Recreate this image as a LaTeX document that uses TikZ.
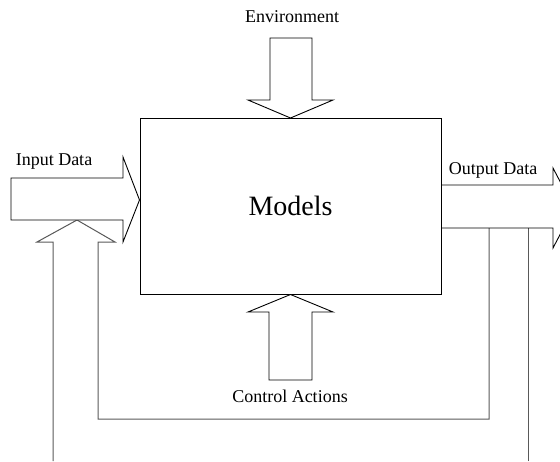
\documentclass[tikz,border=0pt]{standalone}
\usepackage{fontspec}
\setmainfont{Liberation Serif}
\usetikzlibrary{positioning,calc}

\begin{document}
\begin{tikzpicture}
		[x=1pt,y=-1pt,
		block/.style ={rectangle, draw=black, line width=1pt, inner sep=0pt, minimum width=301pt, minimum height=176pt},
		bigarrow/.style ={draw=black, line width=0.9pt, line join=miter, fill=white},
		line/.style ={draw=black!65, line width=1pt},
		label/.style ={inner sep=0pt, font=\fontsize{18}{21}\selectfont}]
		\useasboundingbox (0,0) rectangle (560,461);
		\clip (0,0) rectangle (560,461);

		\draw (290.5,206) node[block, font=\fontsize{28}{32}\selectfont] (models) {Models};

		% feedback loops on the right and below
		\coordinate (fbtip) at (77,220);
		\coordinate (outer) at (528,228);
		\coordinate (inner) at (489,228);
		\draw[line] (53,461) -- (53,242) -- (37,242) -- (fbtip) -- (115,242) -- (98,242) -- (98,419) -- (inner|-0,419) -- (inner);
		\draw[line] (outer|-0,461) -- (outer);

		% block arrows into and out of the model
		\draw[bigarrow] (11,178) -- (123,178) -- (123,157) -- (models.west|-0,200) -- (123,242) -- (123,220) -- (11,220) -- cycle;
		\draw[bigarrow] (270,38) -- (312,38) -- (312,100) -- (333,100) -- (models.north|-0,118) -- (248,100) -- (270,100) -- cycle;
		\draw[bigarrow] (269,380) -- (312,380) -- (312,312) -- (333,312) -- (models.south) -- (248,312) -- (269,312) -- cycle;
		\draw[bigarrow, fill=none] (models.east|-0,185) -- (553,185) -- (553,168) -- (574,208) -- (553,248) -- (553,228) -- (models.east|-0,228);

		\draw (54,162) node[label] (input) {Input Data};
		\draw (292,17) node[label] (env) {Environment};
		\draw (290,396) node[label] (control) {Control Actions};
		\draw (493,170) node[label] (output) {Output Data};
	\end{tikzpicture}
\end{document}
